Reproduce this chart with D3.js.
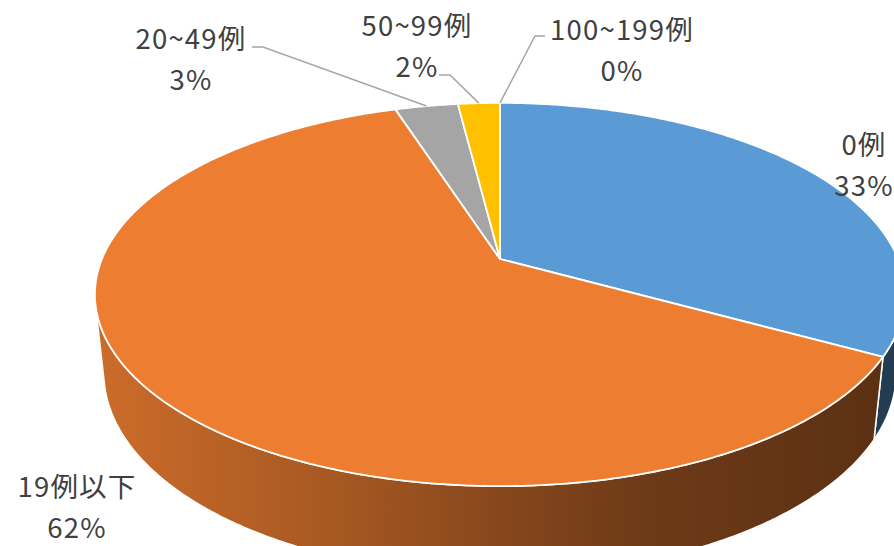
<!DOCTYPE html>
<html>
<head>
<meta charset="utf-8">
<script src="https://cdn.jsdelivr.net/npm/d3@7"></script>
<style>
  body { margin: 0; background: #fff; }
  svg { display: block; }
</style>
</head>
<body>
<script>
// Case-count groups and their share of the total
const categories = ["0例", "19例以下", "20~49例", "50~99例", "100~199例"];
const values = [33, 62, 3, 2, 0];
const colors = ["#5B9BD5", "#ED7D31", "#A5A5A5", "#FFC000", "#4472C4"];

// Label placement: centre of the category line, and optional leader elbow
const labelAt = [[864, 143], [77, 485], [191, 37], [417, 24], [622, 28]];
const leaderAt = [null, null, [[252, 47], [263, 47]], [[439, 75], [450, 75]], [[545, 36], [535, 36]]];

const W = 894, H = 546;
const svg = d3.select("body").append("svg").attr("width", W).attr("height", H);
const defs = svg.append("defs");

// Perspective camera looking down at a unit-radius disc
const cx = 500, cy = 259;
const tilt = 27.7 * Math.PI / 180;
const sinA = Math.sin(tilt), cosA = Math.cos(tilt);
const dist = 4.778, focal = 1902, depthH = 0.225;

// theta: clockwise from the back of the disc; r: radius; yw: height (0 = top face)
function project(theta, yw, r = 1) {
  const px = r * Math.sin(theta), pz = -r * Math.cos(theta);
  const depth = dist - (yw * sinA + pz * cosA);
  return [cx + focal * px / depth, cy - focal * (yw * cosA - pz * sinA) / depth];
}

function arcPoints(a, b, yw) {
  const n = Math.max(2, Math.ceil((b - a) / (0.5 * Math.PI / 180)));
  return d3.range(n + 1).map(i => project(a + (b - a) * i / n, yw));
}

const pie = d3.pie().sort(null).value(d => d).startAngle(0).endAngle(2 * Math.PI);
const arcs = pie(values);
const total = d3.sum(values);
const fmt = d3.format(".0%");
const line = d3.line().curve(d3.curveLinearClosed);

// Side wall faces the camera where cos(theta) < -1 / (dist * cosA)
const cLim = Math.acos(-1 / (dist * cosA));
const frontA = cLim, frontB = 2 * Math.PI - cLim;

// Horizontal shading for the side walls: lit on the left, darker to the right
const shade = [[0, 0.86], [0.3, 0.70], [0.5, 0.57], [0.68, 0.46], [1, 0.38]];
colors.forEach((c, i) => {
  const g = defs.append("linearGradient").attr("id", "side" + i)
    .attr("gradientUnits", "userSpaceOnUse")
    .attr("x1", 95).attr("x2", 905).attr("y1", 0).attr("y2", 0);
  const base = d3.rgb(c);
  shade.forEach(([o, k]) => {
    g.append("stop").attr("offset", o)
      .attr("stop-color", d3.rgb(base.r * k, base.g * k, base.b * k).formatHex());
  });
});

// Side walls
const sides = svg.append("g");
arcs.forEach((d, i) => {
  const a = Math.max(d.startAngle, frontA), b = Math.min(d.endAngle, frontB);
  if (b <= a) return;
  const pts = arcPoints(a, b, 0).concat(arcPoints(a, b, -depthH).reverse());
  sides.append("path").attr("d", line(pts))
    .attr("fill", `url(#side${i})`)
    .attr("stroke", "#fff").attr("stroke-width", 1.5).attr("stroke-linejoin", "round");
});

// Top faces
const centre = project(0, 0, 0);
const tops = svg.append("g");
arcs.forEach((d, i) => {
  if (d.endAngle - d.startAngle <= 0) return;
  const pts = [centre].concat(arcPoints(d.startAngle, d.endAngle, 0));
  tops.append("path").attr("d", line(pts))
    .attr("fill", colors[i])
    .attr("stroke", "#fff").attr("stroke-width", 1.8).attr("stroke-linejoin", "round");
});

// Leader lines from the rim to the labels
const leaders = svg.append("g");
arcs.forEach((d, i) => {
  if (!leaderAt[i]) return;
  const mid = (d.startAngle + d.endAngle) / 2;
  const rim = project(mid, 0);
  const pts = [leaderAt[i][0], leaderAt[i][1], rim];
  leaders.append("path").attr("d", d3.line()(pts))
    .attr("fill", "none").attr("stroke", "#A6A6A6").attr("stroke-width", 1.5);
});

// Data labels
const labels = svg.append("g")
  .attr("font-family", "'Noto Sans CJK JP', 'Noto Sans', sans-serif")
  .attr("font-size", 27.5).attr("letter-spacing", 1.2)
  .attr("fill", "#404040").attr("text-anchor", "middle");
arcs.forEach((d, i) => {
  const [x, y] = labelAt[i];
  const t = labels.append("text").attr("x", x).attr("y", y).attr("dominant-baseline", "central");
  t.append("tspan").attr("x", x).text(categories[i]);
  t.append("tspan").attr("x", x).attr("dy", 40.5).text(fmt(values[i] / total));
});
</script>
</body>
</html>
